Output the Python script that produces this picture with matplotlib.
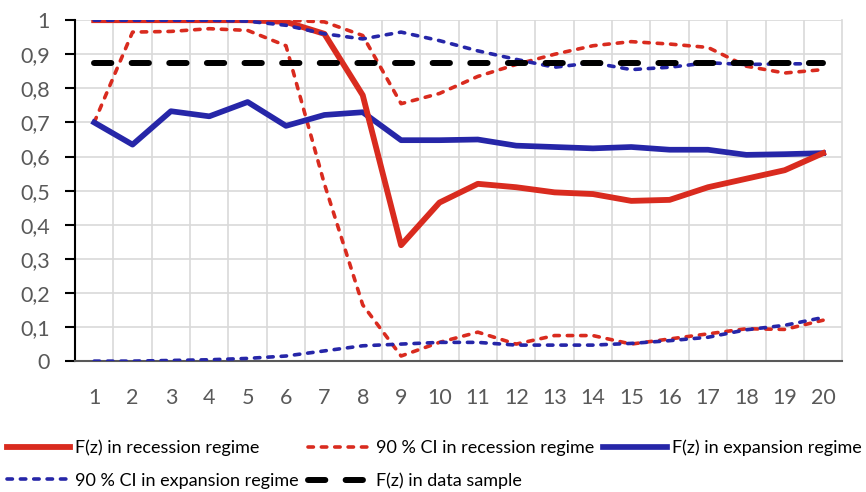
import matplotlib
matplotlib.use("Agg")
import matplotlib.pyplot as plt
import numpy as np

plt.rcParams['font.family'] = ['Lato', 'DejaVu Sans']

horizons = list(range(1, 21))

f_recession = [1.0, 1.0, 1.0, 1.0, 1.0, 0.995, 0.96, 0.78, 0.34, 0.465,
               0.52, 0.51, 0.495, 0.49, 0.47, 0.473, 0.51, 0.535, 0.56, 0.61]
ci_rec_upper = [1.0, 1.0, 1.0, 1.0, 1.0, 1.0, 0.995, 0.955, 0.755, 0.785,
                0.835, 0.87, 0.9, 0.925, 0.937, 0.93, 0.92, 0.865, 0.845, 0.855]
ci_rec_lower = [0.70, 0.965, 0.967, 0.975, 0.97, 0.925, 0.52, 0.165, 0.015, 0.055,
                0.085, 0.05, 0.075, 0.075, 0.05, 0.065, 0.08, 0.095, 0.093, 0.12]
f_expansion = [0.70, 0.635, 0.733, 0.718, 0.76, 0.69, 0.722, 0.73, 0.648, 0.648,
               0.65, 0.632, 0.628, 0.624, 0.628, 0.62, 0.62, 0.605, 0.607, 0.61]
ci_exp_upper = [1.0, 1.0, 1.0, 1.0, 0.997, 0.985, 0.96, 0.945, 0.965, 0.94,
                0.91, 0.885, 0.862, 0.875, 0.855, 0.862, 0.875, 0.87, 0.872, 0.872]
ci_exp_lower = [0.0, 0.0, 0.002, 0.004, 0.008, 0.015, 0.03, 0.045, 0.05, 0.055,
                0.055, 0.047, 0.047, 0.047, 0.052, 0.06, 0.07, 0.092, 0.105, 0.128]
f_sample = [0.875] * 20

RED = '#D92B1F'
BLUE = '#2626A8'

fig = plt.figure(figsize=(8.66, 4.92), dpi=100)
ax = fig.add_axes([0.0866, 0.266, 0.886, 0.693])

dash_kw = dict(lw=2.6, dashes=(1.5, 2.2), dash_capstyle='round')
ax.plot(horizons, ci_rec_upper, color=RED, **dash_kw, zorder=3)
l2, = ax.plot(horizons, ci_rec_lower, color=RED, **dash_kw, zorder=3)
l3, = ax.plot(horizons, f_expansion, color=BLUE, lw=4.1, zorder=4)
l1, = ax.plot(horizons, f_recession, color=RED, lw=4.2, zorder=5)
ax.plot(horizons, ci_exp_upper, color=BLUE, **dash_kw, zorder=6)
l4, = ax.plot(horizons, ci_exp_lower, color=BLUE, **dash_kw, zorder=6)
l5, = ax.plot(horizons, f_sample, color='black', lw=4.3, dashes=(2.9, 3.4),
              dash_capstyle='round', zorder=7)

ax.set_xlim(0.5, 20.5)
ax.set_ylim(0, 1)
ax.set_xticks(horizons)
ax.set_xticks(np.arange(1.5, 20.5, 1), minor=True)
ax.set_yticks(np.arange(0, 1.01, 0.1))
ax.set_yticklabels(['0'] + [f'0,{i}' for i in range(1, 10)] + ['1'])
ax.tick_params(axis='x', which='both', length=0, labelsize=15.5, colors='#595959', pad=19)
ax.tick_params(axis='y', length=7, width=1.5, color='black', labelsize=15.5,
               labelcolor='#595959', pad=11)
ax.grid(axis='y', color='#D9D9D9', lw=1.2)
ax.grid(axis='x', which='minor', color='#D9D9D9', lw=1.2)
ax.set_axisbelow(True)
ax.spines['top'].set_visible(False)
ax.spines['right'].set_color('#D9D9D9')
ax.spines['right'].set_linewidth(1.2)
ax.spines['left'].set_color('black')
ax.spines['left'].set_linewidth(1.5)
ax.spines['bottom'].set_color('#595959')
ax.spines['bottom'].set_linewidth(1.5)

handles = [l1, l4, l2, l5, l3]
labels = ['F(z) in recession regime', '90 % CI in expansion regime',
          '90 % CI in recession regime', 'F(z) in data sample',
          'F(z) in expansion regime']
fig.legend(handles, labels, ncol=3, loc='upper left', bbox_to_anchor=(0.008, 0.106),
           frameon=False, fontsize=13, handlelength=3.5, handletextpad=0.28,
           columnspacing=0.5, labelspacing=0.9, borderpad=0, borderaxespad=0)

fig.savefig('out.png', dpi=100)
